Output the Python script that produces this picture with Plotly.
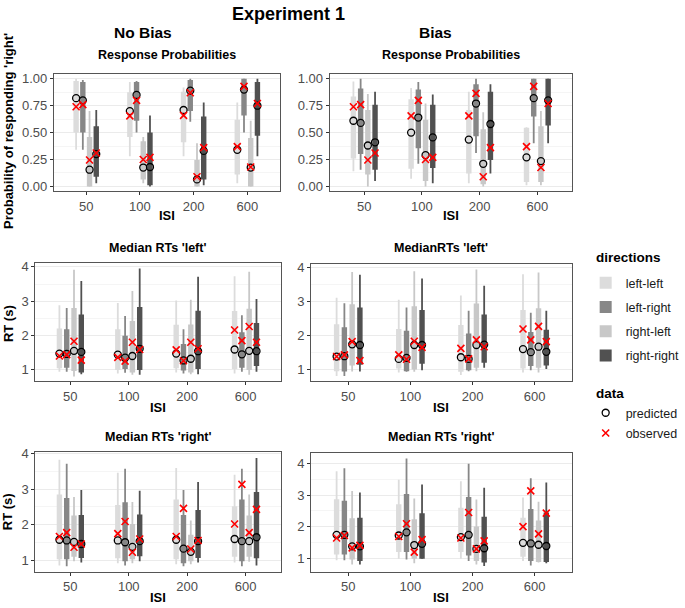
import plotly.graph_objects as go

W, H = 685, 608
ISI = ['50', '100', '200', '600']
DIRECTIONS = ['left-left', 'left-right', 'right-left', 'right-right']
DIR_COLORS = ['#DCDCDC', '#878787', '#C8C8C8', '#515151']

# ---------------- data: rows = directions (ll, lr, rl, rr), cols = ISI ----------------
# Panel 1: No Bias, response probabilities
RP_NB_THIN_LO = [[0.34, 0.28, 0.28, 0.03], [0.34, 0.50, 0.60, 0.50], [0.00, 0.03, 0.00, 0.00], [0.03, 0.00, 0.01, 0.28]]
RP_NB_THIN_HI = [[1.00, 0.97, 0.92, 0.78], [0.99, 0.98, 1.00, 1.00], [0.70, 0.46, 0.40, 0.61], [0.71, 0.66, 0.78, 1.00]]
RP_NB_BOX_LO = [[0.50, 0.46, 0.41, 0.11], [0.50, 0.61, 0.70, 0.66], [0.00, 0.065, 0.00, 0.00], [0.09, 0.01, 0.065, 0.47]]
RP_NB_BOX_HI = [[0.98, 0.875, 0.88, 0.62], [0.97, 0.97, 0.99, 1.00], [0.46, 0.42, 0.245, 0.45], [0.56, 0.50, 0.65, 0.97]]
RP_NB_PRED = [[0.82, 0.70, 0.71, 0.34], [0.80, 0.85, 0.89, 0.90], [0.155, 0.175, 0.065, 0.175], [0.30, 0.18, 0.33, 0.75]]
RP_NB_OBS = [[0.74, 0.655, 0.66, 0.37], [0.76, 0.80, 0.87, 0.93], [0.245, 0.25, 0.09, 0.18], [0.31, 0.27, 0.36, 0.77]]

# Panel 2: Bias, response probabilities
RP_B_THIN_LO = [[0.14, 0.07, 0.03, 0.01], [0.155, 0.21, 0.31, 0.40], [0.00, 0.00, 0.00, 0.01], [0.05, 0.03, 0.12, 0.40]]
RP_B_THIN_HI = [[0.975, 0.915, 0.88, 0.55], [1.00, 0.97, 1.00, 1.00], [0.86, 0.77, 0.69, 0.70], [0.88, 0.855, 0.95, 1.00]]
RP_B_BOX_LO = [[0.26, 0.165, 0.12, 0.04], [0.30, 0.355, 0.465, 0.65], [0.11, 0.05, 0.02, 0.04], [0.155, 0.17, 0.245, 0.565]]
RP_B_BOX_HI = [[0.835, 0.81, 0.71, 0.545], [0.91, 0.90, 0.95, 1.00], [0.71, 0.62, 0.53, 0.56], [0.76, 0.76, 0.88, 1.00]]
RP_B_PRED = [[0.61, 0.50, 0.435, 0.27], [0.59, 0.64, 0.77, 0.82], [0.38, 0.29, 0.21, 0.235], [0.41, 0.455, 0.58, 0.80]]
RP_B_OBS = [[0.74, 0.655, 0.655, 0.37], [0.76, 0.80, 0.865, 0.93], [0.245, 0.25, 0.09, 0.175], [0.31, 0.27, 0.36, 0.77]]

# Panel 3: No Bias, median RTs 'left'
RTL_NB_THIN_LO = [[0.94, 0.89, 0.92, 0.89], [0.94, 0.91, 0.89, 0.94], [0.80, 0.85, 0.87, 0.85], [0.87, 0.85, 0.87, 0.94]]
RTL_NB_THIN_HI = [[2.88, 2.95, 3.02, 3.73], [2.80, 2.57, 2.18, 2.59], [3.92, 3.30, 3.04, 3.86], [3.59, 3.95, 3.71, 3.06]]
RTL_NB_BOX_LO = [[1.04, 0.99, 1.04, 1.02], [1.06, 1.02, 0.98, 1.06], [0.96, 0.92, 0.92, 0.99], [0.92, 0.99, 1.02, 1.11]]
RTL_NB_BOX_HI = [[2.20, 2.18, 2.31, 2.71], [2.18, 1.99, 1.75, 2.09], [2.80, 2.42, 2.32, 2.78], [2.61, 2.83, 2.72, 2.36]]
RTL_NB_PRED = [[1.47, 1.44, 1.47, 1.59], [1.46, 1.35, 1.27, 1.45], [1.55, 1.40, 1.32, 1.55], [1.52, 1.61, 1.54, 1.54]]
RTL_NB_OBS = [[1.40, 1.36, 1.58, 2.16], [1.44, 1.25, 1.26, 1.85], [1.83, 1.80, 1.80, 2.26], [1.28, 1.59, 1.61, 1.80]]

# Panel 4: Bias, median RTs 'left'
RTL_B_THIN_LO = [[0.82, 0.92, 0.85, 0.92], [0.82, 0.94, 0.96, 0.99], [0.95, 0.94, 0.96, 0.92], [0.95, 0.99, 1.06, 1.02]]
RTL_B_THIN_HI = [[3.12, 3.06, 3.19, 3.81], [2.96, 2.83, 2.74, 2.68], [3.88, 3.90, 3.95, 3.86], [3.80, 3.69, 3.47, 2.74]]
RTL_B_BOX_LO = [[0.96, 1.04, 0.94, 1.04], [0.95, 0.96, 0.99, 1.11], [1.13, 1.01, 1.06, 1.06], [1.15, 1.18, 1.21, 1.13]]
RTL_B_BOX_HI = [[2.34, 2.20, 2.32, 2.76], [2.25, 2.15, 2.07, 2.11], [2.93, 2.87, 2.95, 2.81], [2.83, 2.76, 2.63, 2.18]]
RTL_B_PRED = [[1.39, 1.32, 1.37, 1.61], [1.40, 1.35, 1.32, 1.52], [1.75, 1.73, 1.73, 1.68], [1.73, 1.73, 1.74, 1.53]]
RTL_B_OBS = [[1.39, 1.44, 1.63, 2.20], [1.44, 1.31, 1.32, 1.88], [1.83, 1.84, 1.88, 2.28], [1.27, 1.66, 1.68, 1.83]]

# Panel 5: No Bias, median RTs 'right'
RTR_NB_THIN_LO = [[0.86, 0.92, 0.89, 0.94], [0.84, 0.86, 0.84, 0.84], [0.98, 0.92, 0.89, 0.96], [0.94, 0.98, 0.94, 0.86]]
RTR_NB_THIN_HI = [[3.82, 3.46, 3.59, 3.40], [3.71, 3.57, 2.97, 3.57], [2.78, 2.64, 2.12, 2.85], [2.97, 2.95, 3.20, 3.87]]
RTR_NB_BOX_LO = [[1.03, 1.06, 1.03, 1.10], [1.03, 0.98, 0.92, 0.98], [1.10, 1.03, 0.98, 1.10], [1.07, 1.12, 1.07, 1.06]]
RTR_NB_BOX_HI = [[2.85, 2.55, 2.71, 2.52], [2.75, 2.63, 2.27, 2.71], [2.26, 2.02, 1.72, 2.26], [2.27, 2.29, 2.41, 2.92]]
RTR_NB_PRED = [[1.58, 1.56, 1.58, 1.60], [1.56, 1.51, 1.33, 1.54], [1.52, 1.38, 1.24, 1.54], [1.46, 1.54, 1.54, 1.65]]
RTR_NB_OBS = [[1.67, 1.75, 1.67, 2.02], [1.78, 2.09, 2.46, 3.13], [1.37, 1.23, 1.32, 1.78], [1.46, 1.60, 1.56, 2.43]]

# Panel 6: Bias, median RTs 'right'
RTR_B_THIN_LO = [[0.95, 1.00, 1.00, 0.93], [0.95, 0.98, 0.93, 0.79], [0.82, 0.86, 0.82, 0.88], [0.82, 1.00, 0.77, 0.86]]
RTR_B_THIN_HI = [[3.75, 3.48, 3.43, 2.92], [3.84, 4.15, 3.98, 3.53], [3.13, 2.89, 2.86, 2.79], [3.08, 3.33, 3.23, 3.39]]
RTR_B_BOX_LO = [[1.13, 1.21, 1.21, 1.06], [1.13, 1.21, 1.10, 0.93], [0.98, 1.00, 0.93, 0.90], [0.93, 1.00, 0.88, 0.90]]
RTR_B_BOX_HI = [[2.87, 2.71, 2.60, 2.29], [2.82, 3.03, 2.94, 2.56], [2.27, 2.24, 2.01, 2.20], [2.29, 2.43, 2.32, 2.45]]
RTR_B_PRED = [[1.75, 1.73, 1.68, 1.50], [1.75, 1.83, 1.75, 1.48], [1.39, 1.43, 1.31, 1.44], [1.39, 1.47, 1.33, 1.40]]
RTR_B_OBS = [[1.65, 1.70, 1.65, 2.01], [1.73, 2.10, 2.45, 3.13], [1.34, 1.21, 1.31, 1.78], [1.42, 1.60, 1.56, 2.43]]

PROB_TICKS = [0, 0.25, 0.5, 0.75, 1]
RT_TICKS = [1, 2, 3, 4]

# ---------------- layout of the panels (pixel boxes) ----------------
FONT = 'Liberation Sans, Arial, sans-serif'
panels = [
    dict(data=(RP_NB_THIN_LO, RP_NB_THIN_HI, RP_NB_BOX_LO, RP_NB_BOX_HI, RP_NB_PRED, RP_NB_OBS),
         box=(55, 285, 69, 188), yr=[-0.045, 1.045], ticks=PROB_TICKS, fmt='.2f',
         minor=[0.125, 0.375, 0.625, 0.875], title='Response Probabilities', ty=50, isiy=213),
    dict(data=(RP_B_THIN_LO, RP_B_THIN_HI, RP_B_BOX_LO, RP_B_BOX_HI, RP_B_PRED, RP_B_OBS),
         box=(336, 583, 69, 188), yr=[-0.045, 1.045], ticks=PROB_TICKS, fmt='.2f',
         minor=[0.125, 0.375, 0.625, 0.875], title='Response Probabilities', ty=50, isiy=213),
    dict(data=(RTL_NB_THIN_LO, RTL_NB_THIN_HI, RTL_NB_BOX_LO, RTL_NB_BOX_HI, RTL_NB_PRED, RTL_NB_OBS),
         box=(36, 286, 261, 381), yr=[0.66, 4.11], ticks=RT_TICKS, fmt='d',
         minor=[1.5, 2.5, 3.5], title="Median RTs 'left'", ty=246, isiy=408),
    dict(data=(RTL_B_THIN_LO, RTL_B_THIN_HI, RTL_B_BOX_LO, RTL_B_BOX_HI, RTL_B_PRED, RTL_B_OBS),
         box=(317, 583, 262, 381), yr=[0.66, 4.11], ticks=RT_TICKS, fmt='d',
         minor=[1.5, 2.5, 3.5], title="MedianRTs 'left'", ty=246, isiy=408),
    dict(data=(RTR_NB_THIN_LO, RTR_NB_THIN_HI, RTR_NB_BOX_LO, RTR_NB_BOX_HI, RTR_NB_PRED, RTR_NB_OBS),
         box=(36, 286, 453, 574), yr=[0.69, 4.03], ticks=RT_TICKS, fmt='d',
         minor=[1.5, 2.5, 3.5], title="Median RTs 'right'", ty=437, isiy=600),
    dict(data=(RTR_B_THIN_LO, RTR_B_THIN_HI, RTR_B_BOX_LO, RTR_B_BOX_HI, RTR_B_PRED, RTR_B_OBS),
         box=(317, 583, 454, 574), yr=[0.60, 4.31], ticks=RT_TICKS, fmt='d',
         minor=[1.5, 2.5, 3.5], title="Median RTs 'right'", ty=437, isiy=600),
]

DODGE = 0.5          # total dodge width per ISI group (ggplot position_dodge)
XR = [0.4, 4.6]      # discrete axis range
fig = go.Figure()
layout = dict(width=W, height=H, margin=dict(l=0, r=0, t=0, b=0),
              paper_bgcolor='white', plot_bgcolor='white', barmode='overlay',
              font=dict(family=FONT, color='#1A1A1A'))
annotations = []

n_dir = len(DIRECTIONS)
for pi, p in enumerate(panels):
    ax = '' if pi == 0 else str(pi + 1)
    xref, yref = 'x' + ax, 'y' + ax
    x0, x1, y0, y1 = p['box']
    px_per_unit = (x1 - x0) / (XR[1] - XR[0])
    bar_w = 5.5 / px_per_unit
    thin_lo, thin_hi, box_lo, box_hi, pred, obs = p['data']
    for d, dname in enumerate(DIRECTIONS):
        off = (d - (n_dir - 1) / 2) * DODGE / n_dir
        xs = [i + 1 + off for i in range(len(ISI))]
        # thin range line
        lx, ly = [], []
        for i, xv in enumerate(xs):
            lx += [xv, xv, None]
            ly += [thin_lo[d][i], thin_hi[d][i], None]
        fig.add_trace(go.Scatter(x=lx, y=ly, mode='lines', xaxis=xref, yaxis=yref,
                                 line=dict(color=DIR_COLORS[d], width=1.8),
                                 hoverinfo='skip', showlegend=False, legendgroup=dname))
        # thick central range
        fig.add_trace(go.Bar(x=xs, base=box_lo[d],
                             y=[box_hi[d][i] - box_lo[d][i] for i in range(len(ISI))],
                             width=bar_w, xaxis=xref, yaxis=yref, name=dname,
                             marker=dict(color=DIR_COLORS[d], line=dict(width=0)),
                             legendgroup=dname, showlegend=(pi == 0), legend='legend'))
    for d, dname in enumerate(DIRECTIONS):
        off = (d - (n_dir - 1) / 2) * DODGE / n_dir
        xs = [i + 1 + off for i in range(len(ISI))]
        fig.add_trace(go.Scatter(x=xs, y=pred[d], mode='markers', xaxis=xref, yaxis=yref,
                                 name='predicted', legendgroup='predicted', legend='legend2',
                                 showlegend=(pi == 0 and d == 0),
                                 marker=dict(symbol='circle-open', size=7, color='black',
                                             line=dict(width=1.3, color='black'))))
        fig.add_trace(go.Scatter(x=xs, y=obs[d], mode='markers', xaxis=xref, yaxis=yref,
                                 name='observed', legendgroup='observed', legend='legend2',
                                 showlegend=(pi == 0 and d == 0),
                                 marker=dict(symbol='x-thin', size=7, color='red',
                                             line=dict(width=1.6, color='red'))))

    layout['xaxis' + ax] = dict(domain=[x0 / W, x1 / W], anchor=yref, range=XR,
                                tickmode='array', tickvals=list(range(1, len(ISI) + 1)), ticktext=ISI,
                                showgrid=False, zeroline=False, showline=True, mirror=True,
                                linecolor='#555555', linewidth=1, ticks='outside', ticklen=3,
                                tickcolor='#333333', tickfont=dict(size=13, color='#4D4D4D'))
    layout['yaxis' + ax] = dict(domain=[1 - y1 / H, 1 - y0 / H], anchor=xref, range=p['yr'],
                                tickmode='array', tickvals=p['ticks'], tickformat=p['fmt'],
                                showgrid=True, gridcolor='#EBEBEB', gridwidth=1, zeroline=False,
                                showline=True, mirror=True, linecolor='#555555', linewidth=1,
                                ticks='outside', ticklen=3, tickcolor='#333333',
                                tickfont=dict(size=13, color='#4D4D4D'),
                                minor=dict(tickvals=p['minor'], showgrid=True, gridcolor='#F5F5F5',
                                           gridwidth=1, ticks=''))
    cx = (x0 + x1) / 2 / W
    annotations.append(dict(text='<b>' + p['title'] + '</b>', x=cx, y=1 - p['ty'] / H,
                            xref='paper', yref='paper', showarrow=False,
                            font=dict(size=12.5, color='black'), xanchor='center', yanchor='middle'))
    annotations.append(dict(text='<b>ISI</b>', x=cx, y=1 - p['isiy'] / H,
                            xref='paper', yref='paper', showarrow=False,
                            font=dict(size=13, color='black'), xanchor='center', yanchor='middle'))

for txt, x, y, size, ang, xa in [
    ('<b>Experiment 1</b>', 294, 8, 18, 0, 'center'),
    ('<b>No Bias</b>', 146, 27, 15.5, 0, 'center'),
    ('<b>Bias</b>', 444, 27, 15.5, 0, 'center'),
    ("<b>Probability of responding 'right'</b>", 8, 127, 13, -90, 'center'),
    ('<b>RT (s)</b>', 8, 322, 13, -90, 'center'),
    ('<b>RT (s)</b>', 8, 513, 13, -90, 'center'),
    ('<b>directions</b>', 606, 255, 13.5, 0, 'left'),
    ('<b>data</b>', 606, 393, 13.5, 0, 'left'),
]:
    annotations.append(dict(text=txt, x=x / W, y=1 - y / H, xref='paper', yref='paper',
                            showarrow=False, textangle=ang, font=dict(size=size, color='black'),
                            xanchor=xa, yanchor='middle'))

layout['annotations'] = annotations
layout['legend'] = dict(x=597 / W, y=1 - 266 / H, xanchor='left', yanchor='top',
                        font=dict(size=12.5, color='#1A1A1A'), tracegroupgap=5,
                        bgcolor='rgba(0,0,0,0)', itemclick=False, itemdoubleclick=False)
layout['legend2'] = dict(x=597 / W, y=1 - 398 / H, xanchor='left', yanchor='top',
                         font=dict(size=12.5, color='#1A1A1A'), tracegroupgap=1,
                         bgcolor='rgba(0,0,0,0)', itemclick=False, itemdoubleclick=False)
fig.update_layout(**layout)
fig.write_html('out.html', config={'displayModeBar': False},
               post_script="document.body.style.margin='0px';document.body.style.padding='0px';"
                           "document.body.style.overflow='hidden';")
